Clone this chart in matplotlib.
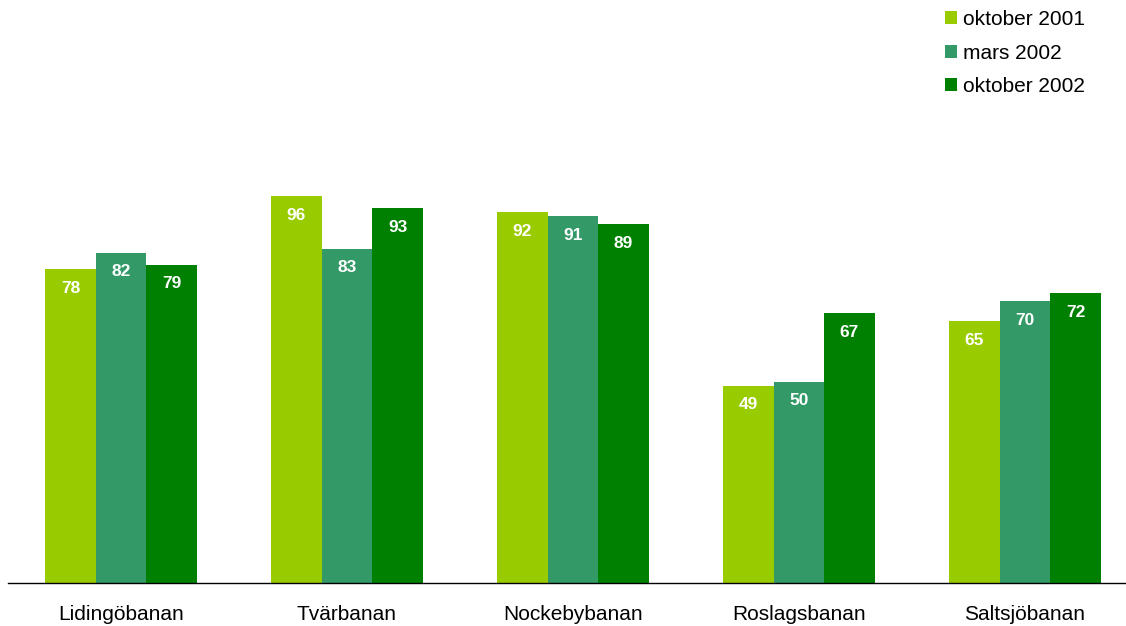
import numpy as np
import matplotlib
matplotlib.use("Agg")
from matplotlib import pyplot as plt

plt.rcParams['font.family'] = ['Liberation Sans', 'DejaVu Sans']

# data
categories = ["Lidingöbanan", "Tvärbanan", "Nockebybanan", "Roslagsbanan", "Saltsjöbanan"]
series_names = ["oktober 2001", "mars 2002", "oktober 2002"]
okt_2001 = [78, 96, 92, 49, 65]
mars_2002 = [82, 83, 91, 50, 70]
okt_2002 = [79, 93, 89, 67, 72]
colors = ["#99CC00", "#339966", "#008000"]

W, H = 1126, 626
fig = plt.figure(figsize=(W / 100, H / 100), dpi=100)
# axes placed by pixel: bottom axis line at y=583
ax = fig.add_axes([8 / W, 1 - 583 / H, 1 - 8 / W, 403 / H])

x = np.arange(len(categories))
bw = 0.2235
for i, (vals, name, col) in enumerate(zip([okt_2001, mars_2002, okt_2002], series_names, colors)):
    pos = x + (i - 1) * bw
    bars = ax.bar(pos, vals, width=bw, color=col, label=name, linewidth=0)
    for b, v in zip(bars, vals):
        ax.text(b.get_x() + b.get_width() / 2, v - 4.8, str(v), ha="center", va="center",
                color="white", fontsize=12.5, fontweight="bold")

ax.set_xlim(-0.5, 4.447)
ax.set_ylim(0, 100)
for s in ["top", "right", "left"]:
    ax.spines[s].set_visible(False)
ax.spines["bottom"].set_linewidth(1.0)
ax.set_yticks([])
ax.set_xticks(x)
ax.set_xticklabels(categories, fontsize=15)
ax.tick_params(axis="x", length=0, pad=15.5)

fig.legend(loc="upper left", bbox_to_anchor=(945 / W, 1 - 10 / H), frameon=False,
           fontsize=15, handlelength=0.58, handleheight=0.58, handletextpad=0.3,
           labelspacing=0.7, borderpad=0, borderaxespad=0)

fig.savefig("out.png", dpi=100)
